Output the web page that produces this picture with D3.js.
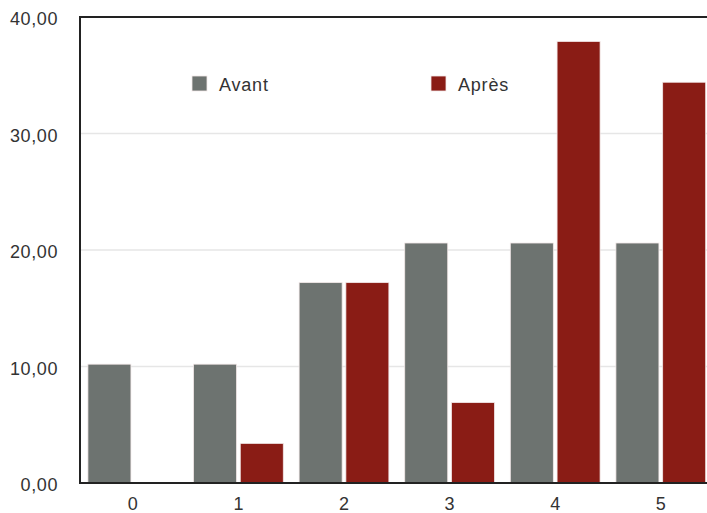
<!DOCTYPE html>
<html>
<head>
<meta charset="utf-8">
<script src="https://cdn.jsdelivr.net/npm/d3@7"></script>
<style>
body { margin: 0; background: #fff; }
text { font-family: "Liberation Sans", Arial, sans-serif; }
</style>
</head>
<body>
<div class="chart"></div>
<script>
var width = 707
var height = 513

var categories = ['0', '1', '2', '3', '4', '5']
var seriesNames = ['Avant', 'Après']
var avant = [10.2, 10.2, 17.2, 20.6, 20.6, 20.6]
var apres = [0, 3.4, 17.2, 6.9, 37.9, 34.4]
var yTicks = [0, 10, 20, 30, 40]
var colors = ['#6d7370', '#8a1c15']

var margin = { top: 17, left: 80, bottom: 30 }

var svg = d3.select('.chart').append('svg')
    .attr('width', width)
    .attr('height', height)

var x0 = d3.scaleBand().domain(categories).range([margin.left, margin.left + 6 * 105.6]).paddingInner(0.15).paddingOuter(0.075)
var x1 = d3.scaleBand().domain(seriesNames).range([0, x0.bandwidth()]).paddingInner(0.08)
var y = d3.scaleLinear().domain([0, 40]).range([483, margin.top])

var fmt = function (v) { return d3.format('.2f')(v).replace('.', ',') }

// grid
svg.append('g').selectAll('line')
    .data(yTicks.slice(1, -1))
    .enter().append('line')
    .attr('x1', margin.left).attr('x2', width)
    .attr('y1', function (d) { return y(d) }).attr('y2', function (d) { return y(d) })
    .attr('stroke', '#e6e6e6').attr('stroke-width', 1.5)

// bars
var data = categories.map(function (c, i) { return { cat: c, vals: [avant[i], apres[i]] } })
var groups = svg.append('g').selectAll('g')
    .data(data).enter().append('g')
    .attr('transform', function (d) { return 'translate(' + x0(d.cat) + ',0)' })

groups.selectAll('rect')
    .data(function (d) { return d.vals.map(function (v, j) { return { name: seriesNames[j], v: v, j: j } }) })
    .enter().append('rect')
    .filter(function (d) { return d.v > 0 })
    .attr('x', function (d) { return x1(d.name) })
    .attr('width', x1.bandwidth())
    .attr('y', function (d) { return y(d.v) })
    .attr('height', function (d) { return y(0) - y(d.v) })
    .attr('fill', function (d) { return colors[d.j] })
    .attr('stroke', '#f2e8e8').attr('stroke-width', 0.8)

// y labels
svg.append('g').selectAll('text')
    .data(yTicks).enter().append('text')
    .attr('x', 58).attr('y', function (d) { return y(d) + 2 })
    .attr('dy', '0.35em')
    .attr('text-anchor', 'end')
    .attr('font-size', 18).attr('letter-spacing', 0.6).attr('fill', '#333')
    .text(fmt)

// x labels
svg.append('g').selectAll('text')
    .data(categories).enter().append('text')
    .attr('x', function (d) { return x0(d) + x0.bandwidth() / 2 })
    .attr('y', 510)
    .attr('text-anchor', 'middle')
    .attr('font-size', 18).attr('fill', '#333')
    .text(function (d) { return d })

// frame
svg.append('line').attr('x1', margin.left - 1).attr('x2', width).attr('y1', margin.top).attr('y2', margin.top)
    .attr('stroke', '#222').attr('stroke-width', 2)
svg.append('line').attr('x1', margin.left - 1).attr('x2', width).attr('y1', y(0)).attr('y2', y(0))
    .attr('stroke', '#222').attr('stroke-width', 2)
svg.append('line').attr('x1', margin.left).attr('x2', margin.left).attr('y1', margin.top).attr('y2', y(0))
    .attr('stroke', '#222').attr('stroke-width', 2)

// legend
var legendX = [192, 431]
var legend = svg.append('g').selectAll('g')
    .data(seriesNames).enter().append('g')
    .attr('transform', function (d, i) { return 'translate(' + legendX[i] + ',76)' })
legend.append('rect').attr('width', 15).attr('height', 15)
    .attr('fill', function (d, i) { return colors[i] })
    .attr('stroke', '#f2e8e8').attr('stroke-width', 0.8)
legend.append('text').attr('x', 27).attr('y', 9).attr('dy', '0.35em')
    .attr('font-size', 18).attr('letter-spacing', 0.8).attr('fill', '#333')
    .text(function (d) { return d })
</script>
</body>
</html>
